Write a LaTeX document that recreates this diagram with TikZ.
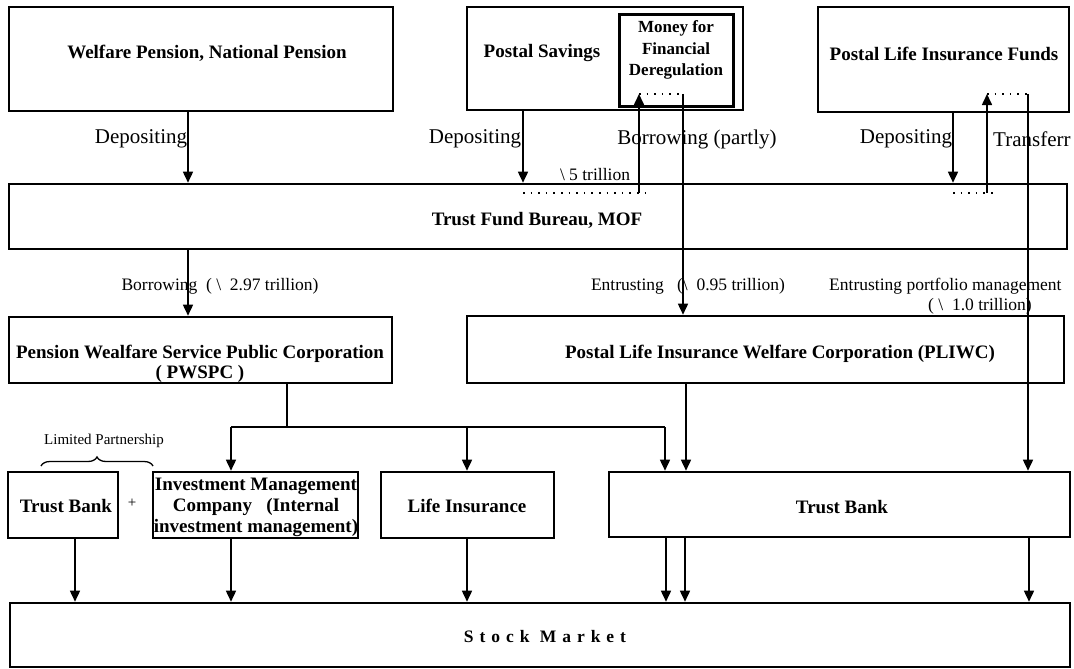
\documentclass[tikz,border=0pt]{standalone}
\usepackage{fontspec}
\setmainfont{Liberation Serif}
\newfontfamily\spacedfont[LetterSpace=34]{Liberation Serif}
\usetikzlibrary{arrows.meta,decorations.pathreplacing}
\tikzset{
  box/.style={draw, line width=2.6pt, inner sep=0pt},
  bl/.style={font=\bfseries\fontsize{19}{22}\selectfont, inner sep=0pt, align=center},
  lb/.style={font=\fontsize{21}{24}\selectfont, inner sep=0pt},
  sl/.style={font=\fontsize{17.5}{20}\selectfont, inner sep=0pt},
  arr/.style={line width=1.6pt, -{Triangle[length=11pt,width=10pt]}},
  ln/.style={line width=1.6pt},
  dotline/.style={line width=1.6pt, dash pattern=on 1.6pt off 6pt},
}
\begin{document}
\begin{tikzpicture}[x=1pt,y=-1pt]
\useasboundingbox (0,0) rectangle (1074,669);
\clip (0,0) rectangle (1074,669);
% boxes
\node[box, minimum width=384pt, minimum height=104pt] (wp) at (201,59) {};
\node[box, minimum width=276pt, minimum height=103pt] (ps) at (605,58.5) {};
\node[box, line width=3pt, minimum width=114pt, minimum height=91pt] (mfd) at (676,60.5) {};
\node[box, minimum width=251pt, minimum height=105pt] (pli) at (943.5,59.5) {};
\node[box, minimum width=1058pt, minimum height=65pt] (tfb) at (538,216.5) {};
\node[box, minimum width=383pt, minimum height=66pt] (pw) at (200.5,350) {};
\node[box, minimum width=597pt, minimum height=67pt] (pl) at (765.5,349.5) {};
\node[box, minimum width=110pt, minimum height=66pt] (tb1) at (63,505) {};
\node[box, minimum width=205pt, minimum height=66pt] (im) at (255.5,505) {};
\node[box, minimum width=173pt, minimum height=66pt] (li) at (467.5,505) {};
\node[box, minimum width=461pt, minimum height=65pt] (tb2) at (839.5,504.5) {};
\node[box, minimum width=1060pt, minimum height=64pt] (sm) at (540,635) {};
% box texts
\node[bl] (twp) at (207,53) {Welfare Pension, National Pension};
\node[bl] (tps) at (542,53) {Postal Savings};
\node[bl, font=\bfseries\fontsize{17}{21.5}\selectfont] (tmfd) at (676,50) {Money for\\Financial\\Deregulation};
\node[bl] (tpli) at (944,54) {Postal Life Insurance Funds};
\node[bl] (ttfb) at (537,220) {Trust Fund Bureau, MOF};
\node[bl, font=\bfseries\fontsize{19}{20}\selectfont] (tpw) at (200,364) {Pension Wealfare Service Public Corporation\\( PWSPC )};
\node[bl] (tpl) at (780,354) {Postal Life Insurance Welfare Corporation (PLIWC)};
\node[bl] (ttb1) at (66,506) {Trust Bank};
\node[bl, font=\bfseries\fontsize{19}{21}\selectfont] (tim) at (256,507) {Investment Management\\Company\ \ \ (Internal\\investment management)};
\node[bl] (tli) at (467,506) {Life Insurance};
\node[bl] (ttb2) at (842,507) {Trust Bank};
\node[bl, font=\spacedfont\bfseries\fontsize{17.5}{20}\selectfont] (tsm) at (545,637) {Stock Market};
% connector labels
\node[lb] (dep1) at (141,139) {Depositing};
\node[lb] (dep2) at (475,139) {Depositing};
\node[lb] (bor1) at (697,139) {Borrowing (partly)};
\node[lb] (dep3) at (906,139) {Depositing};
\node[lb, anchor=west] (trf) at (993,139) {Transferr};
\node[sl] (five) at (595,175) {\textbackslash\ 5 trillion};
\node[sl] (bor2) at (220,286) {Borrowing\ \ (\ \textbackslash\ \ 2.97 trillion)};
\node[sl] (ent1) at (688,286) {Entrusting\ \ \ (\textbackslash\ \ 0.95 trillion)};
\node[sl, anchor=west] (ent2) at (829,286) {Entrusting portfolio management};
\node[sl] (ent3) at (980,306) {(\ \textbackslash\ \ 1.0 trillion)};
\node[sl, font=\fontsize{15}{17}\selectfont] (lp) at (104,441) {Limited Partnership};
\node[sl, font=\fontsize{15}{17}\selectfont] (plus) at (132,503) {+};
% coordinates
\coordinate (xa) at (188,0);
\coordinate (xb) at (523,0);
\coordinate (xc) at (639,0);
\coordinate (xd) at (683,0);
\coordinate (xe) at (953,0);
\coordinate (xf) at (987,0);
\coordinate (xg) at (1028,0);
\coordinate (d1) at (523,193);
\coordinate (d2) at (648,193);
\coordinate (m1) at (639,94);
\coordinate (m2) at (683,94);
\coordinate (d3) at (953,193);
\coordinate (d4) at (993,193);
\coordinate (p1) at (987,94);
\coordinate (p2) at (1028,94);
\coordinate (j0) at (287,427);
\coordinate (jl) at (231,427);
\coordinate (jm) at (467,427);
\coordinate (jr) at (665,427);
\coordinate (xh) at (686,0);
\coordinate (b1) at (75,0);
\coordinate (b2) at (231,0);
\coordinate (b3) at (467,0);
\coordinate (b4) at (666,0);
\coordinate (b5) at (685,0);
\coordinate (b6) at (1029,0);
% connectors
\draw[arr] (xa |- wp.south) -- (xa |- tfb.north);
\draw[arr] (xb |- ps.south) -- (xb |- tfb.north);
\draw[dotline] (d1) -- (d2);
\draw[arr] (xc |- d1) -- (m1);
\draw[dotline] (m1) -- (m2);
\draw[arr] (m2) -- (xd |- pl.north);
\draw[arr] (xe |- pli.south) -- (xe |- tfb.north);
\draw[dotline] (d3) -- (d4);
\draw[arr] (xf |- d3) -- (p1);
\draw[dotline] (p1) -- (p2);
\draw[arr] (p2) -- (xg |- tb2.north);
\draw[arr] (xa |- tfb.south) -- (xa |- pw.north);
\draw[ln] (j0 |- pw.south) -- (j0);
\draw[ln] (jl) -- (jr);
\draw[arr] (jl) -- (jl |- im.north);
\draw[arr] (jm) -- (jm |- li.north);
\draw[arr] (jr) -- (jr |- tb2.north);
\draw[arr] (xh |- pl.south) -- (xh |- tb2.north);
\draw[arr] (b1 |- tb1.south) -- (b1 |- sm.north);
\draw[arr] (b2 |- im.south) -- (b2 |- sm.north);
\draw[arr] (b3 |- li.south) -- (b3 |- sm.north);
\draw[arr] (b4 |- tb2.south) -- (b4 |- sm.north);
\draw[arr] (b5 |- tb2.south) -- (b5 |- sm.north);
\draw[arr] (b6 |- tb2.south) -- (b6 |- sm.north);
\draw[line width=1.3pt, decorate, decoration={brace, amplitude=9pt}] (41,466) -- (153,466);
\end{tikzpicture}
\end{document}
